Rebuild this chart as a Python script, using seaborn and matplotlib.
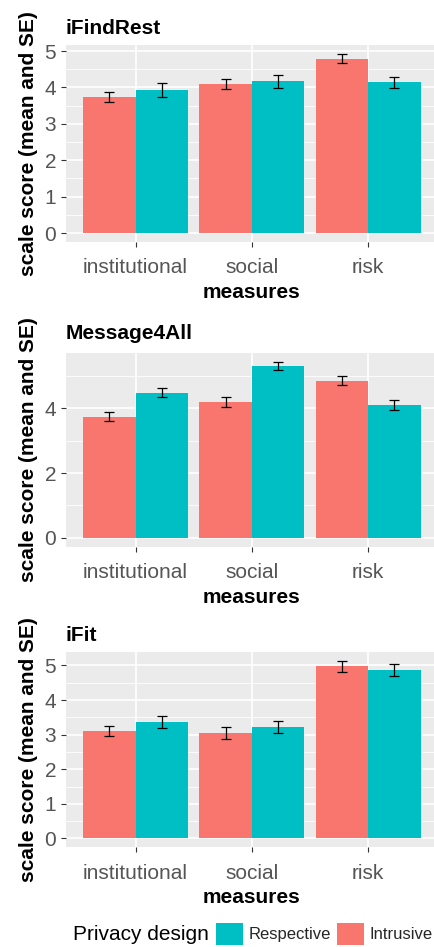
import matplotlib
matplotlib.use("Agg")
import matplotlib.pyplot as plt
from matplotlib.patches import Patch
from matplotlib.ticker import MultipleLocator
import numpy as np
import pandas as pd
import seaborn as sns

# ---- data -------------------------------------------------------------
measures = ["institutional", "social", "risk"]
designs = ["Intrusive", "Respective"]
apps = ["iFindRest", "Message4All", "iFit"]

ifindrest_intrusive = [3.73, 4.10, 4.79]
ifindrest_intrusive_se = [0.135, 0.13, 0.13]
ifindrest_respective = [3.93, 4.17, 4.14]
ifindrest_respective_se = [0.18, 0.18, 0.16]

message4all_intrusive = [3.74, 4.19, 4.85]
message4all_intrusive_se = [0.14, 0.15, 0.15]
message4all_respective = [4.47, 5.30, 4.10]
message4all_respective_se = [0.14, 0.12, 0.16]

ifit_intrusive = [3.11, 3.04, 4.97]
ifit_intrusive_se = [0.15, 0.17, 0.17]
ifit_respective = [3.37, 3.23, 4.86]
ifit_respective_se = [0.17, 0.17, 0.17]

panel_data = {
    "iFindRest": (ifindrest_intrusive, ifindrest_intrusive_se,
                  ifindrest_respective, ifindrest_respective_se),
    "Message4All": (message4all_intrusive, message4all_intrusive_se,
                    message4all_respective, message4all_respective_se),
    "iFit": (ifit_intrusive, ifit_intrusive_se,
             ifit_respective, ifit_respective_se),
}

palette = {"Intrusive": "#F8766D", "Respective": "#00BFC4"}

# ---- style ------------------------------------------------------------
sns.set_theme(style="darkgrid")
plt.rcParams["font.family"] = ["Liberation Sans", "DejaVu Sans"]

W, H = 435, 947
fig = plt.figure(figsize=(W / 100, H / 100), dpi=100)

# panel boxes in pixels: (left, top, right, bottom)
panel_px = {
    "iFindRest": (65.7, 45.0, 438.0, 242.0),
    "Message4All": (65.7, 353.3, 438.0, 546.7),
    "iFit": (65.7, 651.7, 438.0, 847.3),
}
major_step = {"iFindRest": 1, "Message4All": 2, "iFit": 1}
title_pad = {"iFindRest": 8.0, "Message4All": 10.0, "iFit": 8.0}

tick_grey = "#555555"

for app in apps:
    l, t, r, b = panel_px[app]
    ax = fig.add_axes([l / W, 1 - b / H, (r - l) / W, (b - t) / H])
    ax.set_facecolor("#EBEBEB")

    intr, intr_se, resp, resp_se = panel_data[app]
    df = pd.DataFrame({
        "measure": measures * 2,
        "design": ["Intrusive"] * 3 + ["Respective"] * 3,
        "mean": list(intr) + list(resp),
        "se": list(intr_se) + list(resp_se),
    })

    sns.barplot(data=df, x="measure", y="mean", hue="design",
                order=measures, hue_order=designs, palette=palette,
                width=0.9, saturation=1, errorbar=None, linewidth=0,
                legend=False, ax=ax, zorder=2)

    # standard-error whiskers on each bar
    for cont, d in zip(ax.containers, designs):
        sub = df[df["design"] == d].set_index("measure").loc[measures]
        xs = [bar.get_x() + bar.get_width() / 2 for bar in cont]
        ax.errorbar(xs, sub["mean"].values, yerr=sub["se"].values,
                    fmt="none", ecolor="black", elinewidth=0.9,
                    capsize=3.3, capthick=0.9, zorder=3)

    top = max((df["mean"] + df["se"]).max(), 0)
    ax.set_ylim(-0.05 * top, top * 1.05)
    ax.set_xlim(-0.6, 2.6)

    step = major_step[app]
    ax.yaxis.set_major_locator(MultipleLocator(step))
    ax.yaxis.set_minor_locator(MultipleLocator(step / 2))
    ax.grid(which="major", axis="both", color="white", linewidth=1.2)
    ax.grid(which="minor", axis="y", color="white", linewidth=0.6)
    ax.set_axisbelow(True)
    for s in ax.spines.values():
        s.set_visible(False)

    ax.tick_params(axis="both", which="major", length=3.3, width=0.8,
                   color="#333333", labelsize=15, labelcolor=tick_grey,
                   bottom=True, left=True)
    ax.tick_params(axis="x", pad=8.5)
    ax.tick_params(axis="y", pad=3.5)
    ax.tick_params(which="minor", length=0)

    ax.set_xlabel("measures", fontsize=15, fontweight="bold",
                  color="black", labelpad=4)
    ax.set_ylabel("scale score (mean and SE)", fontsize=15,
                  fontweight="bold", color="black", labelpad=5)
    ax.set_title(app, loc="left", fontsize=15, fontweight="bold",
                 color="black", pad=title_pad[app])

# ---- legend -----------------------------------------------------------
leg_y = 1 - 934 / H
fig.text(73 / W, leg_y, "Privacy design", fontsize=15, color="black",
         ha="left", va="center")
handles = [Patch(facecolor=palette["Respective"], edgecolor="none"),
           Patch(facecolor=palette["Intrusive"], edgecolor="none")]
fig.legend(handles, ["Respective", "Intrusive"], ncol=2,
           loc="center left", bbox_to_anchor=(216 / W, leg_y),
           frameon=False, fontsize=12, handlelength=1.63,
           handleheight=1.68, handletextpad=0.3, columnspacing=0.4,
           borderpad=0, borderaxespad=0)

fig.savefig("out.png", dpi=100, facecolor="white")
